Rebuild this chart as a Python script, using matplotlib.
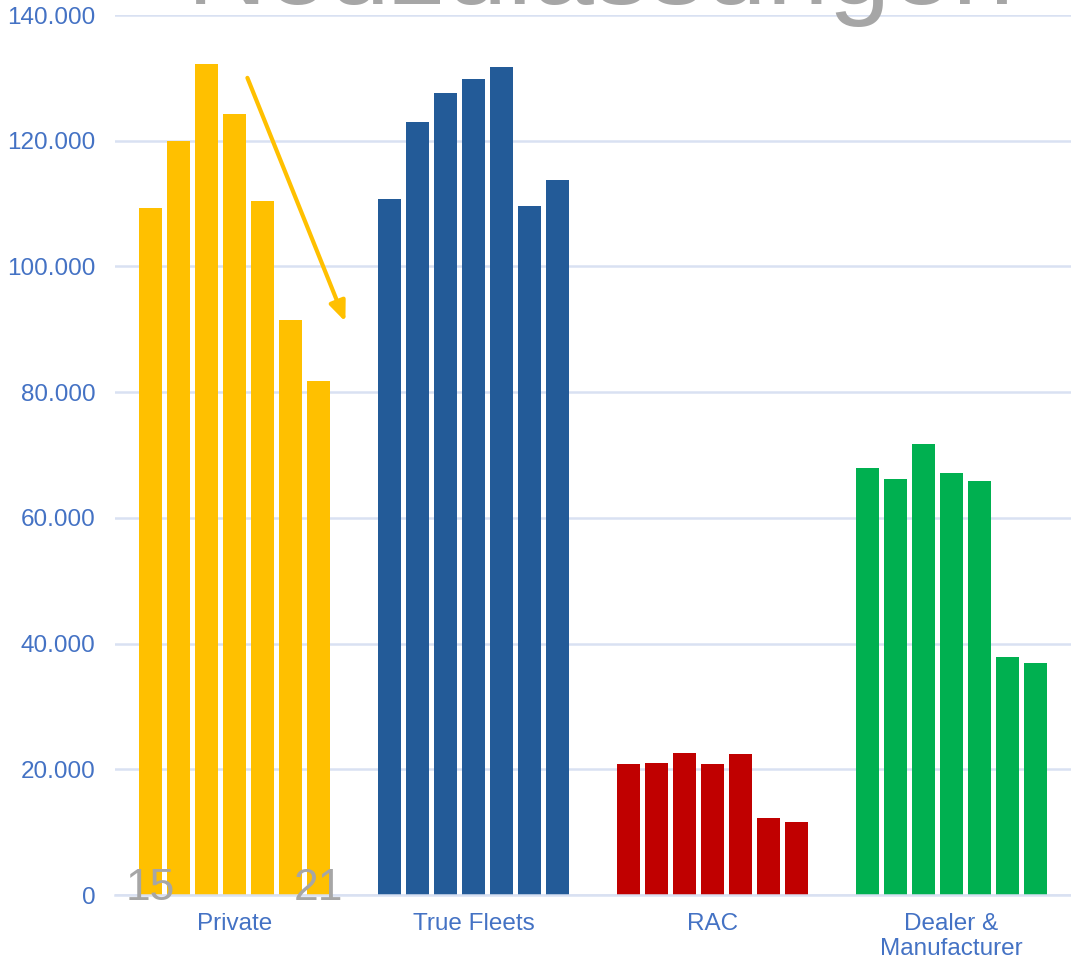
import numpy as np
import matplotlib
matplotlib.use("Agg")
import matplotlib.pyplot as plt
from matplotlib.ticker import FuncFormatter

plt.rcParams['font.family'] = ['Liberation Sans', 'DejaVu Sans']

# Neuzulassungen 2015-2021 by channel
categories = ["Private", "True Fleets", "RAC", "Dealer &\nManufacturer"]
years = ["15", "16", "17", "18", "19", "20", "21"]
private = [109300, 120000, 132200, 124200, 110400, 91500, 81800]
true_fleets = [110700, 123000, 127600, 129800, 131700, 109600, 113700]
rac = [20800, 21000, 22600, 20800, 22400, 12200, 11600]
dealer = [67900, 66200, 71700, 67100, 65900, 37900, 36900]
yticks = [0, 20000, 40000, 60000, 80000, 100000, 120000, 140000]

series = [private, true_fleets, rac, dealer]
colors = ["#FFC000", "#235B98", "#C00000", "#00B050"]


def format_thousands(value, pos):
    '''
    German style thousands: 140.000
    '''
    return f"{int(value):,}".replace(",", ".")


def main():
    fig = plt.figure(figsize=(10.71, 9.64), dpi=100)
    ax = fig.add_axes([115 / 1071, 1 - 895 / 964, 956 / 1071, 880 / 964])

    n = len(years)
    pitch = 0.117
    width = 0.096
    offsets = (np.arange(n) - (n - 1) / 2) * pitch

    for g, (vals, col) in enumerate(zip(series, colors)):
        ax.bar(g + offsets, vals, width=width, color=col, zorder=2)

    # first / last year labels under the Private group
    for i in (0, n - 1):
        ax.text(0 + offsets[i], -800, years[i], fontsize=32, color="#A6A6A6",
                ha="center", va="baseline", zorder=5, clip_on=False)

    # trend arrow for private registrations
    ax.annotate("", xy=(0.464, 91200), xytext=(0.054, 130000),
                arrowprops=dict(arrowstyle="-|>,head_length=1.2,head_width=0.5",
                                color="#FFC000", lw=3, shrinkA=0, shrinkB=0),
                zorder=4)

    ax.set_xlim(-0.5, 3.5)
    ax.set_ylim(0, 140000)
    ax.set_yticks(yticks)
    ax.yaxis.set_major_formatter(FuncFormatter(format_thousands))
    ax.set_xticks(range(len(categories)))
    ax.set_xticklabels(categories, linespacing=1.2)

    ax.grid(axis="y", color="#D9E1F2", lw=1.8, zorder=0)
    ax.set_axisbelow(True)
    for side in ("left", "right", "top"):
        ax.spines[side].set_visible(False)
    ax.spines["bottom"].set_color("#D9E1F2")
    ax.spines["bottom"].set_linewidth(1.8)
    ax.tick_params(axis="both", length=0, labelsize=17.5, labelcolor="#4472C4")
    ax.tick_params(axis="y", pad=14)
    ax.tick_params(axis="x", pad=13)

    fig.text(601 / 1071, 1 - 4 / 964, "Neuzulassungen", fontsize=80,
             color="#A6A6A6", ha="center", va="baseline")

    fig.savefig("out.png", dpi=100)


if __name__ == "__main__":
    main()
